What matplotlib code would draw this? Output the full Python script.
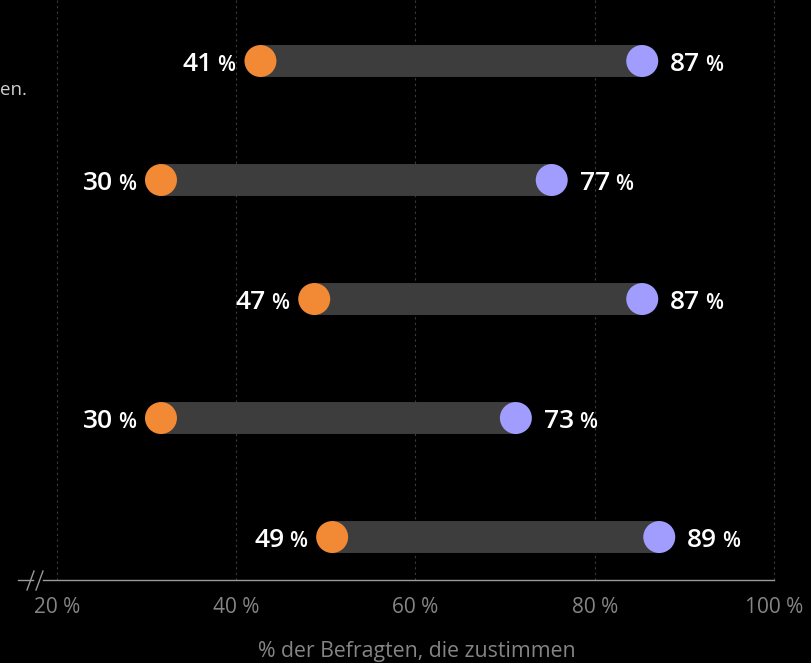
import matplotlib.pyplot as plt
from matplotlib.lines import Line2D

plt.rcParams['font.family'] = ['Open Sans', 'DejaVu Sans']

# values (dot positions) and the printed labels
low = [42.7, 31.6, 48.7, 31.6, 50.7]
high = [85.3, 75.2, 85.3, 71.2, 87.2]
low_lbl = [41, 30, 47, 30, 49]
high_lbl = [87, 77, 87, 73, 89]
ticks = [20, 40, 60, 80, 100]
tick_lbl = ['20 %', '40 %', '60 %', '80 %', '100 %']
xlabel = '% der Befragten, die zustimmen'

orange = '#F28A35'
purple = '#A09DFF'
bar_col = '#3d3d3d'
W, H = 812, 663


def px2v(px):
    return 20 + (px - 57) / 8.9625


fig = plt.figure(figsize=(W / 100, H / 100), dpi=100, facecolor='black')
ax = fig.add_axes([0, 83 / H, 1, 580 / H])
ax.set_facecolor('black')
ax.set_xlim(px2v(0), px2v(W))
ax.set_ylim(4.361, -0.5126)

rows = list(range(len(low)))
ax.hlines(rows, low, high, color=bar_col, lw=23, capstyle='butt', zorder=2)
ax.scatter(low, rows, s=530, color=orange, edgecolors='none', zorder=3)
ax.scatter(high, rows, s=530, color=purple, edgecolors='none', zorder=3)

# grid, axis
ax.set_xticks(ticks)
ax.set_xticklabels(tick_lbl)
ax.set_yticks([])
ax.tick_params(axis='x', length=0, pad=12, colors='#858585', labelsize=15)
ax.grid(axis='x', color='#3c3c3c', linestyle=(0, (2, 3)), lw=0.8)
ax.set_axisbelow(True)
for s in ['top', 'left', 'right']:
    ax.spines[s].set_visible(False)
ax.spines['bottom'].set_color('#9a9a9a')
ax.spines['bottom'].set_linewidth(1)
ax.spines['bottom'].set_bounds(px2v(43), 100)

# axis break marker
def fp(x, y):
    return x / W, 1 - y / H

for (x0, y0), (x1, y1) in [((18, 580), (33, 580)), ((27, 590), (34, 571)), ((36, 590), (43, 571))]:
    a, b = fp(x0, y0)
    c, d = fp(x1, y1)
    fig.add_artist(Line2D([a, c], [b, d], color='#9a9a9a', lw=1))

fig.text(417 / W, 1 - 651 / H, xlabel, ha='center', va='center', color='#858585', fontsize=15.3)
fig.text(0, 1 - 90 / H, 'en.', ha='left', va='center', color='#d0d0d0', fontsize=13.5)

# value labels: bold number + smaller percent sign
fig.canvas.draw()
r = fig.canvas.get_renderer()
k = 0.72  # px -> pt
base = -10 * k
for i in rows:
    # left label, right-aligned
    p = ax.annotate('%', (low[i], i), xytext=(-25 * k, base), textcoords='offset points',
                    ha='right', va='baseline', color='white', fontsize=15, fontweight='semibold', zorder=4)
    wp = p.get_window_extent(r).width
    ax.annotate(str(low_lbl[i]), (low[i], i), xytext=(-(25 + wp + 5) * k, base), textcoords='offset points',
                ha='right', va='baseline', color='white', fontsize=19, fontweight='semibold', zorder=4)
    # right label, left-aligned
    n = ax.annotate(str(high_lbl[i]), (high[i], i), xytext=(28 * k, base), textcoords='offset points',
                    ha='left', va='baseline', color='white', fontsize=19, fontweight='semibold', zorder=4)
    wn = n.get_window_extent(r).width
    ax.annotate('%', (high[i], i), xytext=((28 + wn + 5) * k, base), textcoords='offset points',
                ha='left', va='baseline', color='white', fontsize=15, fontweight='semibold', zorder=4)

fig.savefig('out.png', dpi=100, facecolor='black')
